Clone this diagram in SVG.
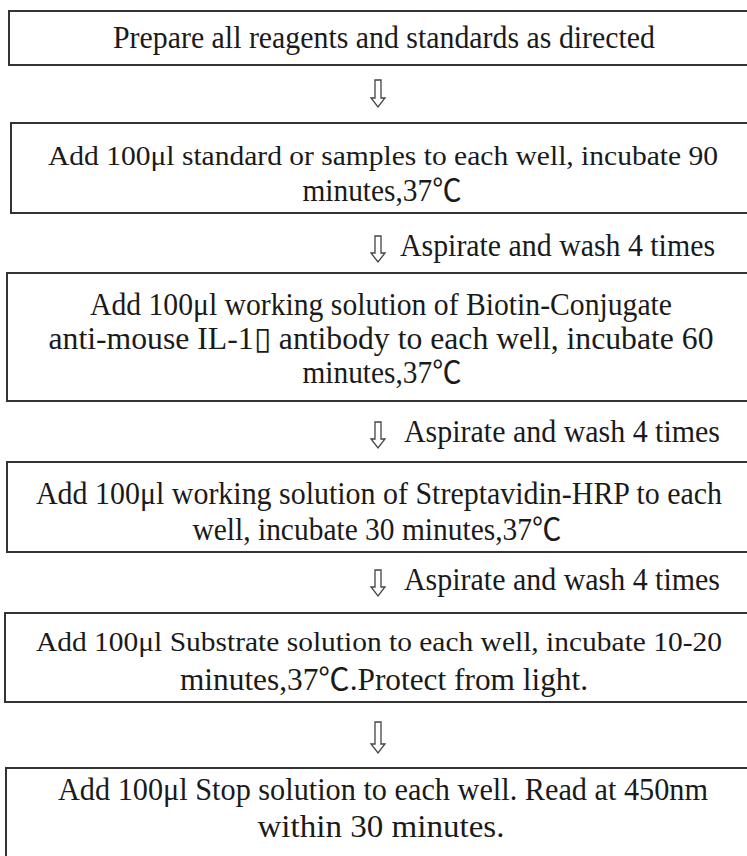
<svg xmlns="http://www.w3.org/2000/svg" width="747" height="856" viewBox="0 0 747 856">
<style>
.box{fill:#fff;stroke:#333;stroke-width:2}
text{font-family:"Liberation Serif","Noto Sans CJK SC",serif;font-size:31px;fill:#1a1a1a}
.c{text-anchor:middle}
.s{font-size:28px}
.arr{fill:#fff;stroke:#444;stroke-width:1.3;stroke-linejoin:miter}
</style>
<rect width="747" height="856" fill="#fff"/>
<g id="connectors">
<polygon class="arr" points="375,80 381,80 381,98 385,98 378,107 371,98 375,98"/>
<polygon class="arr" points="375,236 381,236 381,253 385,253 378,262 371,253 375,253"/>
<polygon class="arr" points="375,422 381,422 381,439 385,439 378,448 371,439 375,439"/>
<polygon class="arr" points="375,570 381,570 381,587 385,587 378,596 371,587 375,587"/>
<polygon class="arr" points="375,722 381,722 381,744 385,744 378,753 371,744 375,744"/>
<text x="400" y="256" textLength="315" lengthAdjust="spacingAndGlyphs">Aspirate and wash 4 times</text>
<text x="404" y="442" textLength="316" lengthAdjust="spacingAndGlyphs">Aspirate and wash 4 times</text>
<text x="404" y="590" textLength="316" lengthAdjust="spacingAndGlyphs">Aspirate and wash 4 times</text>
</g>
<g id="n1">
<rect class="box" x="9" y="11" width="750" height="54"/>
<text class="c" x="384" y="48" textLength="542" lengthAdjust="spacingAndGlyphs">Prepare all reagents and standards as directed</text>
</g>
<g id="n2">
<rect class="box" x="11" y="123" width="750" height="90"/>
<text class="c s" x="383" y="165" textLength="670" lengthAdjust="spacingAndGlyphs">Add 100μl standard or samples to each well, incubate 90</text>
<text class="c" x="382" y="201" textLength="159" lengthAdjust="spacingAndGlyphs">minutes,37℃</text>
</g>
<g id="n3">
<rect class="box" x="7" y="273" width="752" height="128"/>
<text class="c" x="381" y="315" textLength="582" lengthAdjust="spacingAndGlyphs">Add 100μl working solution of Biotin-Conjugate</text>
<text class="c" x="381" y="349" textLength="665" lengthAdjust="spacingAndGlyphs">anti-mouse IL-1▯ antibody to each well, incubate 60</text>
<text class="c" x="382" y="383" textLength="159" lengthAdjust="spacingAndGlyphs">minutes,37℃</text>
</g>
<g id="n4">
<rect class="box" x="7" y="462" width="752" height="90"/>
<text class="c" x="379" y="504" textLength="686" lengthAdjust="spacingAndGlyphs">Add 100μl working solution of Streptavidin-HRP to each</text>
<text class="c" x="377" y="540" textLength="369" lengthAdjust="spacingAndGlyphs">well, incubate 30 minutes,37℃</text>
</g>
<g id="n5">
<rect class="box" x="5" y="613" width="754" height="89"/>
<text class="c s" x="379" y="651" textLength="686" lengthAdjust="spacingAndGlyphs">Add 100μl Substrate solution to each well, incubate 10-20</text>
<text class="c" x="384" y="690" textLength="408" lengthAdjust="spacingAndGlyphs">minutes,37℃.Protect from light.</text>
</g>
<g id="n6">
<rect class="box" x="6" y="768" width="754" height="100"/>
<text class="c" x="383" y="800" textLength="650" lengthAdjust="spacingAndGlyphs">Add 100μl Stop solution to each well. Read at 450nm</text>
<text class="c" x="381" y="837" textLength="247" lengthAdjust="spacingAndGlyphs">within 30 minutes.</text>
</g>
</svg>
